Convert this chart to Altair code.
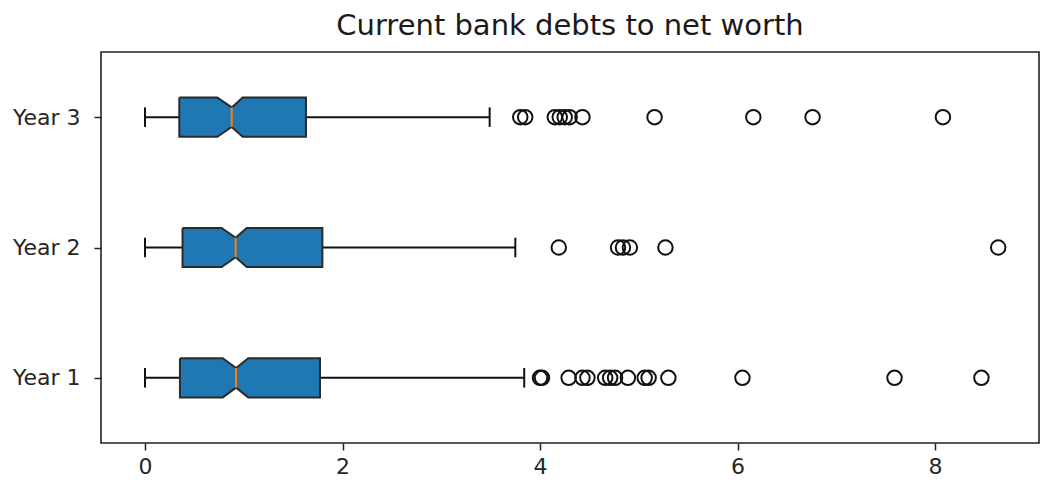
import altair as alt
import pandas as pd

years = ["Year 1", "Year 2", "Year 3"]
positions = [1, 2, 3]
whisker_low = [0.0, 0.0, 0.0]
q1 = [0.354, 0.380, 0.347]
ci_low = [0.787, 0.776, 0.732]
median = [0.922, 0.918, 0.878]
ci_high = [1.046, 1.030, 0.989]
q3 = [1.772, 1.796, 1.630]
whisker_high = [3.84, 3.75, 3.49]
outliers_y1 = [4.0, 4.02, 4.29, 4.43, 4.48, 4.66, 4.71, 4.76, 4.89, 5.06, 5.10, 5.30, 6.05, 7.59, 8.47]
outliers_y2 = [4.19, 4.79, 4.84, 4.91, 5.27, 8.64]
outliers_y3 = [3.80, 3.85, 4.15, 4.20, 4.25, 4.30, 4.43, 5.16, 6.16, 6.76, 8.08]

BOX_HALF = 0.15
NOTCH_HALF = 0.075
CAP_HALF = 0.075

stats = pd.DataFrame({
    "year": years, "pos": positions, "low": whisker_low, "q1": q1,
    "cilo": ci_low, "med": median, "cihi": ci_high, "q3": q3, "high": whisker_high,
})
stats["ctop"] = stats["pos"] + CAP_HALF
stats["cbot"] = stats["pos"] - CAP_HALF

# closed outline of each notched box, built from the statistics above
outline = [("q1", BOX_HALF), ("cilo", BOX_HALF), ("med", NOTCH_HALF), ("cihi", BOX_HALF),
           ("q3", BOX_HALF), ("q3", -BOX_HALF), ("cihi", -BOX_HALF), ("med", -NOTCH_HALF),
           ("cilo", -BOX_HALF), ("q1", -BOX_HALF), ("q1", BOX_HALF)]
rows = []
for _, r in stats.iterrows():
    for i, (key, off) in enumerate(outline):
        rows.append({"year": r["year"], "k": i, "val": float(r[key]), "yy": float(r["pos"] + off)})
box_df = pd.DataFrame(rows)

out_rows = []
for yr, pos, vals in zip(years, positions, [outliers_y1, outliers_y2, outliers_y3]):
    for v in vals:
        out_rows.append({"year": yr, "pos": pos, "v": v})
out_df = pd.DataFrame(out_rows)

xscale = alt.Scale(domain=[-0.4456, 9.053], nice=False, zero=False)
yscale = alt.Scale(domain=[0.5, 3.5], nice=False, zero=False)

xaxis = alt.Axis(values=[0, 2, 4, 6, 8], format="d", grid=False, domain=False, tickSize=7,
                 tickColor="#222", tickWidth=1.5, labelFontSize=22, labelColor="#262626",
                 labelPadding=6, title=None, labelFont="DejaVu Sans")
yaxis = alt.Axis(values=[1, 2, 3], grid=False, domain=False, tickSize=7,
                 tickColor="#222", tickWidth=1.5, labelFontSize=22, labelColor="#262626",
                 labelPadding=14, title=None, labelFont="DejaVu Sans",
                 labelExpr="'Year ' + datum.value")

base_stats = alt.Chart(stats)

whisk_lo = base_stats.mark_rule(color="#111", strokeWidth=2).encode(
    x=alt.X("low:Q", scale=xscale, axis=xaxis), x2="q1:Q",
    y=alt.Y("pos:Q", scale=yscale, axis=yaxis))
whisk_hi = base_stats.mark_rule(color="#111", strokeWidth=2).encode(
    x=alt.X("q3:Q", scale=xscale), x2="high:Q", y=alt.Y("pos:Q", scale=yscale))
cap_lo = base_stats.mark_rule(color="#111", strokeWidth=2).encode(
    x=alt.X("low:Q", scale=xscale), y=alt.Y("cbot:Q", scale=yscale), y2="ctop:Q")
cap_hi = base_stats.mark_rule(color="#111", strokeWidth=2).encode(
    x=alt.X("high:Q", scale=xscale), y=alt.Y("cbot:Q", scale=yscale), y2="ctop:Q")

box_layers = []
for yr in years:
    box_layers.append(
        alt.Chart(box_df).transform_filter(alt.datum.year == yr).mark_line(
            fill="#1f77b4", stroke="#2b2b2b", strokeWidth=2, strokeJoin="miter",
            fillOpacity=1, interpolate="linear").encode(
            x=alt.X("val:Q", scale=xscale), y=alt.Y("yy:Q", scale=yscale),
            order=alt.Order("k:Q"))
    )

med_line = base_stats.mark_rule(color="#ff7f0e", strokeWidth=2).encode(
    x=alt.X("med:Q", scale=xscale), y=alt.Y("cbot:Q", scale=yscale), y2="ctop:Q")

outs = alt.Chart(out_df).mark_point(shape="circle", filled=False, color="#111",
                                    size=210, strokeWidth=2, opacity=1).encode(
    x=alt.X("v:Q", scale=xscale), y=alt.Y("pos:Q", scale=yscale))

chart = alt.layer(whisk_lo, whisk_hi, cap_lo, cap_hi, *box_layers, med_line, outs).properties(
    width=938, height=391,
    background="white",
    title=alt.TitleParams("Current bank debts to net worth", fontSize=29, font="DejaVu Sans",
                          fontWeight="normal", color="#1a1a1a", offset=11),
    autosize=alt.AutoSizeParams(type="none"),
    padding={"left": 101, "top": 52, "right": 1, "bottom": 40},
).configure_view(stroke="#222", strokeWidth=1.6)

chart.save("out.html", embed_options={"renderer": "svg", "actions": False})
